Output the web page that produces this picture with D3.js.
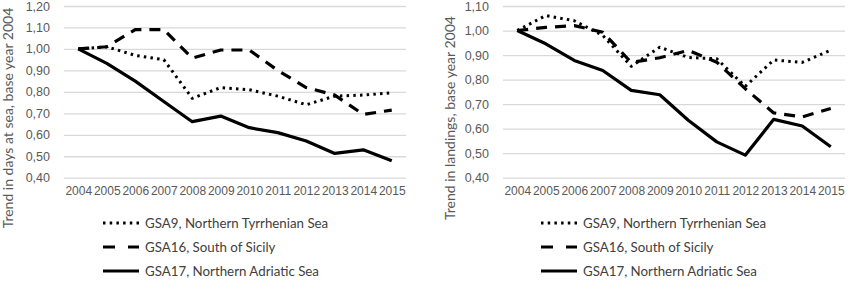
<!DOCTYPE html>
<html>
<head>
<meta charset="utf-8">
<script src="https://cdn.jsdelivr.net/npm/d3@7"></script>
<style>
  body { margin: 0; background: #fff; }
  svg { font-family: Lato, "Open Sans", sans-serif; }
</style>
</head>
<body>
<svg id="mainFrame" width="850" height="283"></svg>
<script>
const years = ['2004','2005','2006','2007','2008','2009','2010','2011','2012','2013','2014','2015'];
const seriesNames = ['GSA9, Northern Tyrrhenian Sea', 'GSA16, South of Sicily', 'GSA17, Northern Adriatic Sea'];

// days at sea
const daysGSA9  = [1.00, 1.01, 0.97, 0.95, 0.77, 0.82, 0.81, 0.78, 0.74, 0.78, 0.785, 0.795];
const daysGSA16 = [1.00, 1.01, 1.09, 1.09, 0.957, 0.995, 0.995, 0.90, 0.82, 0.785, 0.695, 0.715];
const daysGSA17 = [1.00, 0.933, 0.85, 0.755, 0.661, 0.687, 0.633, 0.61, 0.571, 0.513, 0.53, 0.479];

// landings
const landGSA9  = [1.00, 1.061, 1.04, 0.98, 0.854, 0.932, 0.89, 0.885, 0.772, 0.88, 0.87, 0.92];
const landGSA16 = [1.00, 1.013, 1.02, 0.993, 0.87, 0.889, 0.919, 0.871, 0.763, 0.664, 0.648, 0.682];
const landGSA17 = [1.00, 0.946, 0.878, 0.837, 0.756, 0.738, 0.634, 0.546, 0.492, 0.638, 0.611, 0.526];

const daysTicks = [0.4, 0.5, 0.6, 0.7, 0.8, 0.9, 1.0, 1.1, 1.2];
const landTicks = [0.4, 0.5, 0.6, 0.7, 0.8, 0.9, 1.0, 1.1];

const svg = d3.select('#mainFrame');

const styles = [
    { dash: '2.5 4.2', width: 3, cap: 'butt' },   // dotted
    { dash: '11 8', width: 3.2, cap: 'butt' },    // long dash
    { dash: null, width: 3.2, cap: 'butt' }       // solid
];

const fmt = d3.formatLocale({ decimal: ',', thousands: '.', grouping: [3], currency: ['', ''] }).format('.2f');

const panels = [
    { x0: 64, x1: 406, yMax: 1.2, ticks: daysTicks, title: 'Trend in days at sea, base year 2004', titleX: 8,
      series: [daysGSA9, daysGSA16, daysGSA17], legendX: 103 },
    { x0: 503, x1: 845, yMax: 1.1, ticks: landTicks, title: 'Trend in landings, base year 2004', titleX: 450,
      series: [landGSA9, landGSA16, landGSA17], legendX: 541 }
];

const yTop = 6, yBottom = 177.7;
const legendY = [223, 247, 271];

panels.forEach(p => {
    const xScale = d3.scalePoint()
        .domain(years)
        .range([p.x0, p.x1])
        .padding(0.5);

    const yScale = d3.scaleLinear()
        .domain([0.4, p.yMax])
        .range([yBottom, yTop]);

    const g = svg.append('g');

    // gridlines + y labels
    const yAxis = d3.axisLeft(yScale)
        .tickValues(p.ticks)
        .tickFormat(fmt)
        .tickSize(-(p.x1 - p.x0))
        .tickPadding(14);

    const yAxisGroup = g.append('g')
        .attr('transform', `translate(${p.x0},0)`)
        .call(yAxis);
    yAxisGroup.select('.domain').remove();
    yAxisGroup.selectAll('line')
        .attr('stroke', '#d9d9d9')
        .attr('stroke-width', 1.3);
    yAxisGroup.selectAll('text')
        .attr('fill', '#595959')
        .attr('font-size', 12.5);

    // x labels
    const xAxis = d3.axisBottom(xScale)
        .tickSize(0)
        .tickPadding(9);
    const xAxisGroup = g.append('g')
        .attr('transform', `translate(0,${yBottom})`)
        .call(xAxis);
    xAxisGroup.select('.domain').remove();
    xAxisGroup.selectAll('text')
        .attr('fill', '#595959')
        .attr('font-size', 12);

    // y title
    g.append('text')
        .attr('transform', `translate(${p.titleX},${(yTop + 230) / 2}) rotate(-90)`)
        .attr('text-anchor', 'middle')
        .attr('dy', '0.35em')
        .attr('fill', '#595959')
        .attr('font-size', 14)
        .text(p.title);

    const line = d3.line()
        .x((d, i) => xScale(years[i]))
        .y(d => yScale(d));

    p.series.forEach((s, k) => {
        g.append('path')
            .datum(s)
            .attr('d', line)
            .attr('fill', 'none')
            .attr('stroke', '#000')
            .attr('stroke-width', styles[k].width)
            .attr('stroke-linecap', styles[k].cap)
            .attr('stroke-linejoin', 'round')
            .attr('stroke-dasharray', styles[k].dash);
    });

    // legend
    const legend = g.append('g');
    seriesNames.forEach((name, k) => {
        legend.append('line')
            .attr('x1', p.legendX)
            .attr('x2', p.legendX + 36)
            .attr('y1', legendY[k])
            .attr('y2', legendY[k])
            .attr('stroke', '#000')
            .attr('stroke-width', styles[k].width)
            .attr('stroke-dasharray', k === 1 ? '12 13' : styles[k].dash);
        legend.append('text')
            .attr('x', p.legendX + 42)
            .attr('y', legendY[k])
            .attr('dy', '0.35em')
            .attr('fill', '#404040')
            .attr('font-size', 13.3)
            .text(name);
    });
});
</script>
</body>
</html>
